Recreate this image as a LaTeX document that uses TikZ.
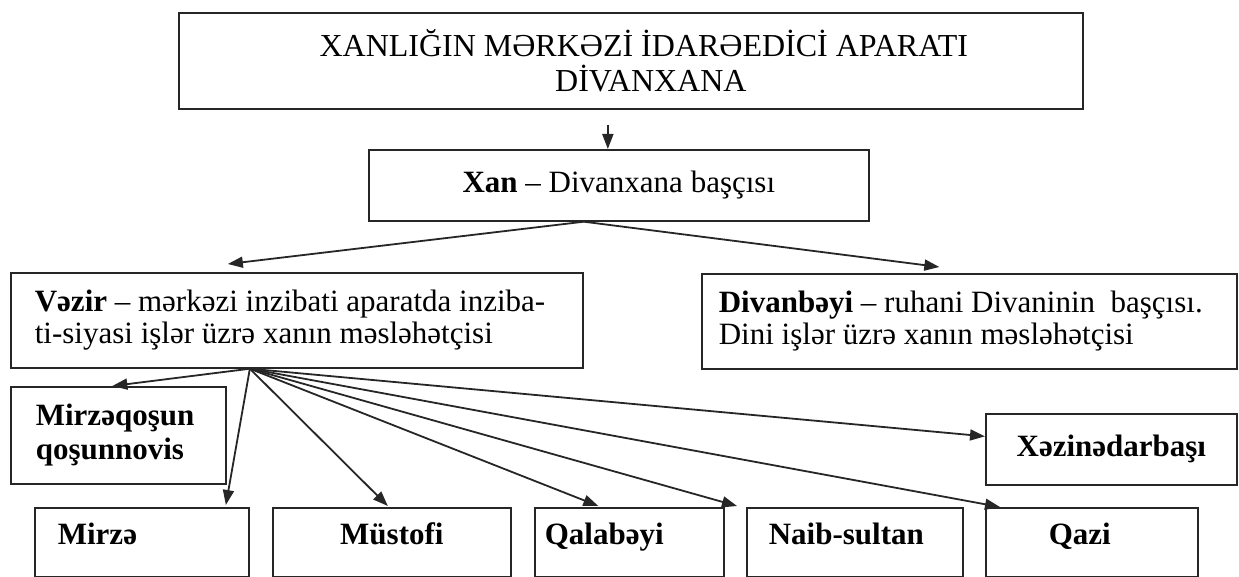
\documentclass[tikz,border=0pt]{standalone}
\usepackage{fontspec}
\setmainfont{Liberation Serif}
\usetikzlibrary{arrows.meta}
\begin{document}
\begin{tikzpicture}[x=1pt,y=-1pt,
  box/.style={draw=black!85, line width=1.7pt, rectangle, anchor=north west, inner sep=0pt},
  arr/.style={draw=black!85, line width=1.8pt, -{Triangle[length=15pt,width=11pt]}},
  txt/.style={font=\fontsize{31}{32}\selectfont},
  btxt/.style={font=\fontsize{31}{34}\selectfont\bfseries},
  bot/.style={box, btxt, minimum height=69pt, text height=22pt, text depth=18pt}]
\useasboundingbox (0,0) rectangle (1239,577);
% top
\node[box, minimum width=904pt, minimum height=96pt, align=center,
      font=\fontsize{32}{35}\selectfont] (top) at (178,12)
  {\hspace*{26pt}XANLIĞIN MƏRKƏZİ İDARƏEDİCİ APARATI\\\hspace*{40pt}DİVANXANA};
\node[box, txt, minimum width=500pt, minimum height=71pt] (xan) at (368,149)
  {\textbf{Xan} – Divanxana başçısı};
\node[box, txt, minimum width=572pt, minimum height=95pt, inner xsep=24pt,
      text width=524pt, align=flush left] (vezir) at (10,272)
  {\textbf{Vəzir} – mərkəzi inzibati aparatda inziba-\\ti-siyasi işlər üzrə xanın məsləhətçisi};
\node[box, txt, minimum width=535pt, minimum height=95pt, inner xsep=17pt,
      text width=501pt, align=flush left] (divan) at (701,273)
  {\textbf{Divanbəyi} – ruhani Divaninin\ \ başçısı.\\Dini işlər üzrə xanın məsləhətçisi};
\node[box, btxt, minimum width=215pt, minimum height=97pt, inner xsep=25pt,
      text width=165pt, align=flush left] (mq) at (10,386)
  {Mirzəqoşun\\qoşunnovis};
\node[box, btxt, minimum width=251pt, minimum height=71pt] (xez) at (985,413)
  {Xəzinədarbaşı};
\node[bot, minimum width=214pt, inner xsep=23pt, text width=168pt, align=flush left] (mirze) at (34,507) {Mirzə};
\node[bot, minimum width=238pt] (must) at (272,507) {Müstofi};
\node[bot, minimum width=189pt, inner xsep=10pt, text width=169pt, align=flush left] (qala) at (534,507) {Qalabəyi};
\node[bot, minimum width=216pt, inner xsep=22pt, text width=172pt, align=flush left] (naib) at (746,507) {Naib-sultan};
\node[bot, minimum width=212pt, inner xsep=63pt, text width=86pt, align=flush left] (qazi) at (985,507) {Qazi};
% connectors
\draw[arr] ([xshift=-23pt,yshift=-15pt]top.south) -- ([xshift=-11pt]xan.north);
\coordinate (xs) at ([xshift=-35pt]xan.south);
\draw[arr] (xs) -- ([xshift=-69pt,yshift=8pt]vezir.north);
\draw[arr] (xs) -- ([xshift=-30pt,yshift=6pt]divan.north);
\coordinate (vz) at ([xshift=-47pt]vezir.south);
\draw[arr] (vz) -- ([xshift=-6pt]mq.north);
\draw[arr] (vz) -- ([xshift=84pt,yshift=2pt]mirze.north);
\draw[arr] (vz) -- ([xshift=-4pt,yshift=1pt]must.north);
\draw[arr] (vz) -- ([xshift=-31pt,yshift=1pt]qala.north);
\draw[arr] (vz) -- ([xshift=-9pt,yshift=1pt]naib.north west);
\draw[arr] (vz) -- ([xshift=15pt]qazi.north west);
\draw[arr] (vz) -- ([yshift=13pt]xez.west);
\end{tikzpicture}
\end{document}
